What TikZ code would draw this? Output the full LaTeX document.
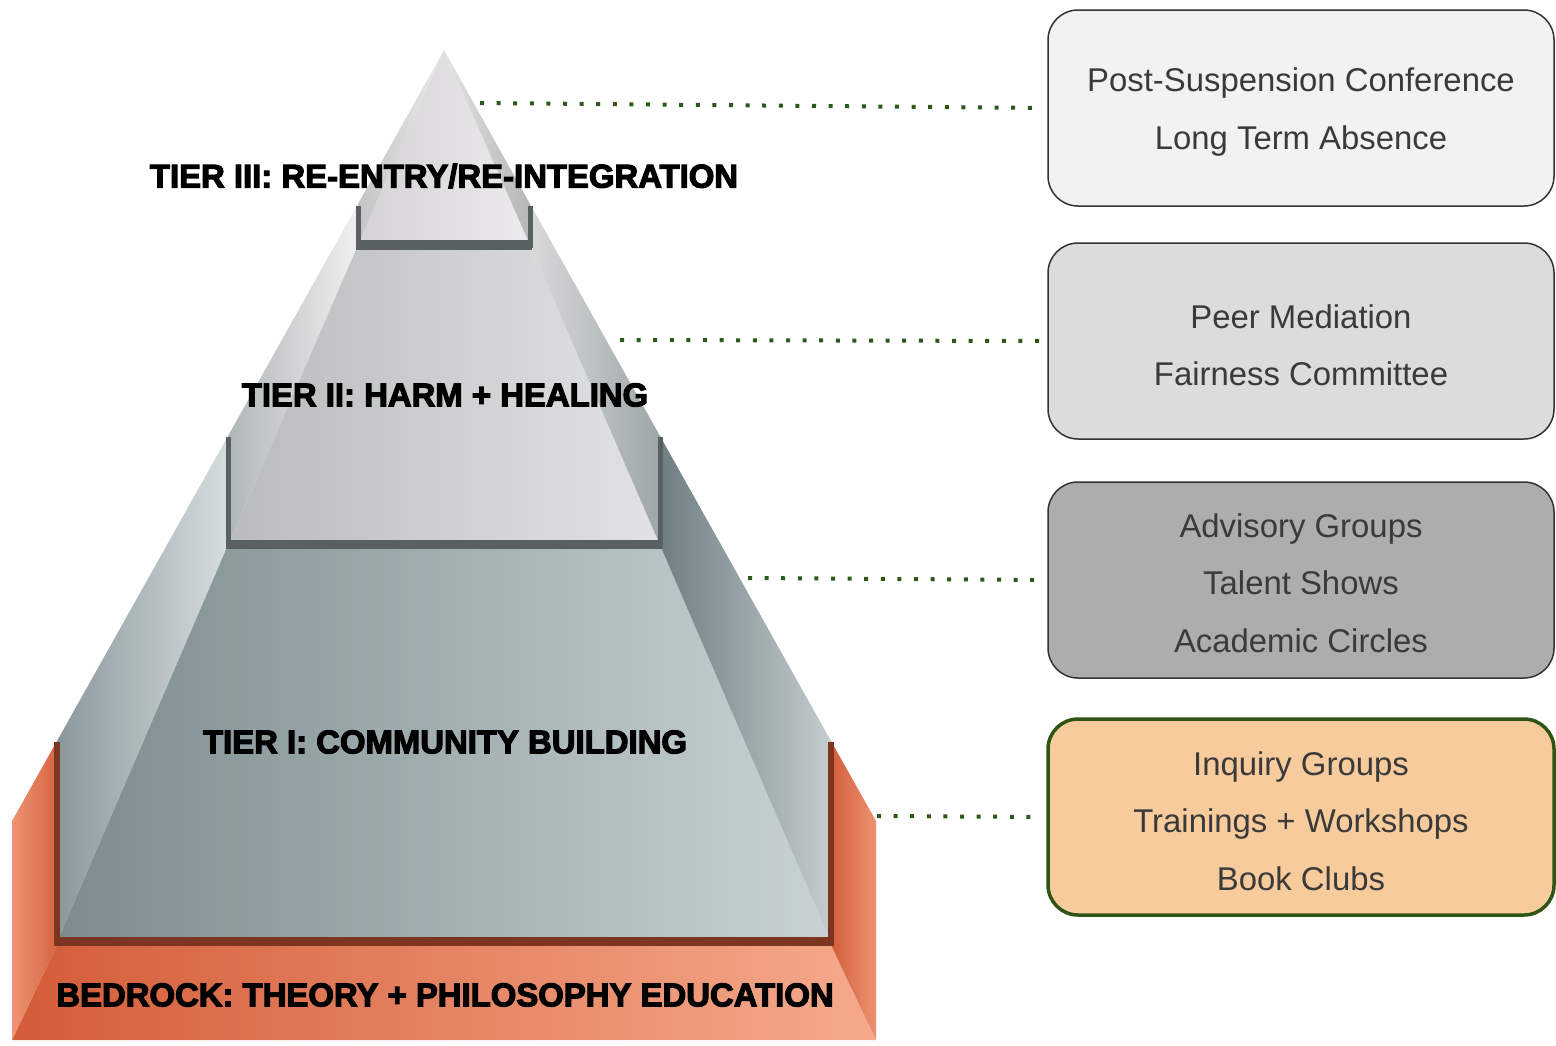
\documentclass[tikz,border=0pt]{standalone}
\usepackage{fontspec}
\setmainfont{Liberation Sans}
\newfontfamily\heavyfont{Liberation Sans Bold}[FakeBold=3.5]
\definecolor{bedL}{HTML}{D45C38}
\definecolor{bedR}{HTML}{F5AA8C}
\definecolor{bedSL}{HTML}{EE9474}
\definecolor{bedSR}{HTML}{D5653F}
\definecolor{bedRL}{HTML}{D35E3A}
\definecolor{bedRR}{HTML}{EC9272}
\definecolor{oneSL}{HTML}{8A989C}
\definecolor{oneSR}{HTML}{D6DDDF}
\definecolor{oneFL}{HTML}{7C8B8E}
\definecolor{oneFR}{HTML}{C8D2D4}
\definecolor{oneRL}{HTML}{6E7E82}
\definecolor{oneRR}{HTML}{C4CCCE}
\definecolor{twoSL}{HTML}{B0B6B8}
\definecolor{twoSR}{HTML}{F0F0F0}
\definecolor{twoFL}{HTML}{B8BCBD}
\definecolor{twoFR}{HTML}{E2E2E4}
\definecolor{twoRL}{HTML}{D8DADA}
\definecolor{twoRR}{HTML}{9EA6A8}
\definecolor{thrSL}{HTML}{C4C4C6}
\definecolor{thrSR}{HTML}{EAEAEA}
\definecolor{thrFL}{HTML}{D4D2D4}
\definecolor{thrFR}{HTML}{ECEAEC}
\definecolor{thrRL}{HTML}{E2E2E2}
\definecolor{thrRR}{HTML}{B6B6B8}
\definecolor{brownline}{HTML}{7B3520}
\definecolor{grayline}{HTML}{586062}
\definecolor{dotgreen}{HTML}{2D5A1B}
\definecolor{boxgreen}{HTML}{2F5516}
\definecolor{boxtext}{HTML}{3A3A3A}
\definecolor{boxA}{HTML}{F2F2F2}
\definecolor{boxB}{HTML}{DCDCDC}
\definecolor{boxC}{HTML}{ADADAD}
\definecolor{boxD}{HTML}{F8CB9C}
\newcommand{\toppad}{\rule{0pt}{32bp}}
\newcommand{\midpad}{\rule{0pt}{30bp}}
\begin{document}
\begin{tikzpicture}[x=1bp,y=-1bp,
  tierlabel/.style={font=\heavyfont\fontsize{33}{36}\selectfont, text=black, inner sep=0pt},
  infobox/.style={draw=black!80, line width=1.5bp, rounded corners=30bp,
    minimum width=506bp, minimum height=196bp, align=center, text=boxtext,
    font=\fontsize{33}{57.5}\selectfont},
  dotline/.style={draw=dotgreen, line width=4bp, dash pattern=on 4bp off 12.6bp},
  graytray/.style={draw=grayline, line width=5bp},
  browntray/.style={draw=brownline, line width=6bp}]
\useasboundingbox (0,0) rectangle (1556,1045);

% ---- bedrock ----
\shade[left color=bedL, right color=bedR] (57,945) -- (831,945) -- (876,1040) -- (12,1040) -- cycle;
\shade[left color=bedSL, right color=bedSR] (12,821) -- (57,741) -- (57,945) -- (12,1040) -- cycle;
\shade[left color=bedRL, right color=bedRR] (876,821) -- (831,741) -- (831,945) -- (876,1040) -- cycle;

% ---- tier I ----
\shade[left color=oneSL, right color=oneSR] (228,436) -- (57,741) -- (57,942) -- (228,545) -- cycle;
\shade[left color=oneFL, right color=oneFR] (228,545) -- (660,545) -- (831,942) -- (57,942) -- cycle;
\shade[left color=oneRL, right color=oneRR] (660,436) -- (831,741) -- (831,942) -- (660,545) -- cycle;

% ---- tier II ----
\shade[left color=twoSL, right color=twoSR] (358,204) -- (228,436) -- (228,545) -- (358,245) -- cycle;
\shade[left color=twoFL, right color=twoFR] (358,245) -- (530,245) -- (660,545) -- (228,545) -- cycle;
\shade[left color=twoRL, right color=twoRR] (530,204) -- (660,436) -- (660,545) -- (530,245) -- cycle;

% ---- tier III ----
\shade[left color=thrSL, right color=thrSR] (444,50) -- (358,204) -- (358,245) -- cycle;
\shade[left color=thrFL, right color=thrFR] (444,50) -- (530,245) -- (358,245) -- cycle;
\shade[left color=thrRL, right color=thrRR] (444,50) -- (530,204) -- (530,245) -- cycle;

% ---- trays ----
\draw[graytray] (358,206) -- (358,245) -- (530,245) -- (530,206);
\fill[grayline] (356,240) rectangle (532,250);
\draw[graytray] (228,437) -- (228,545) -- (660,545) -- (660,437);
\fill[grayline] (226,540) rectangle (662,549);
\draw[browntray] (57,742) -- (57,942) -- (831,942) -- (831,742);
\fill[brownline] (54,937) rectangle (834,946);

% ---- tier labels ----
\node[tierlabel] (t3) at (444,176) {TIER III: RE-ENTRY/RE-INTEGRATION};
\node[tierlabel] (t2) at (445,395) {TIER II: HARM + HEALING};
\node[tierlabel] (t1) at (445,742) {TIER I: COMMUNITY BUILDING};
\node[tierlabel] (t0) at (445,995) {BEDROCK: THEORY + PHILOSOPHY EDUCATION};

% ---- boxes ----
\node[infobox, fill=boxA] (b1) at (1301,108) {\toppad Post-Suspension Conference\\Long Term Absence};
\node[infobox, fill=boxB] (b2) at (1301,341) {\toppad Peer Mediation\\Fairness Committee};
\node[infobox, fill=boxC] (b3) at (1301,580) {\midpad Advisory Groups\\Talent Shows\\Academic Circles};
\node[infobox, fill=boxD, draw=boxgreen, line width=3.5bp] (b4) at (1301,817) {\toppad Inquiry Groups\\Trainings + Workshops\\Book Clubs};

% ---- connectors ----
\coordinate (c1) at (480,103);
\coordinate (c2) at (620,340);
\coordinate (c3) at (748,578);
\coordinate (c4) at (877,816);
\draw[dotline, shorten >=3bp] (c1) -- (b1.west);
\draw[dotline, shorten >=7bp] (c2) -- (b2.west);
\draw[dotline, shorten >=7bp] (c3) -- (b3.west);
\draw[dotline, shorten >=7bp] (c4) -- (b4.west);
\end{tikzpicture}
\end{document}
